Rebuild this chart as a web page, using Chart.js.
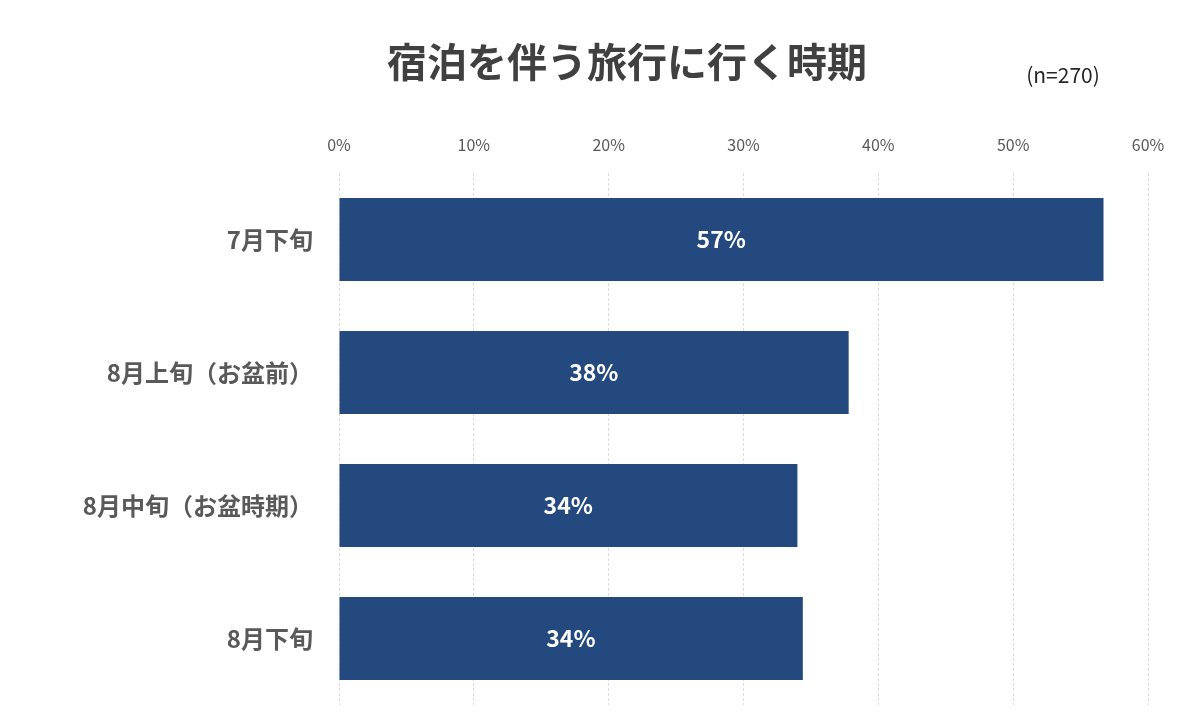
<!DOCTYPE html>
<html>
<head>
<meta charset="utf-8">
<script src="https://cdn.jsdelivr.net/npm/chart.js@4"></script>
<style>
  body { margin: 0; background: #ffffff; }
</style>
</head>
<body>
<canvas id="chart" width="1200" height="728"></canvas>
<script>
const categories = ["7月下旬", "8月上旬（お盆前）", "8月中旬（お盆時期）", "8月下旬"];
const shares = [56.7, 37.8, 34.0, 34.4];
const shareLabels = ["57%", "38%", "34%", "34%"];
const xTicks = [0, 10, 20, 30, 40, 50, 60];

const FONT = "'Noto Sans CJK JP', 'Noto Sans', sans-serif";

// title, sample size and values inside the bars
const textPlugin = {
  id: "texts",
  afterDatasetsDraw(chart) {
    const ctx = chart.ctx;
    ctx.save();
    ctx.textAlign = "center";
    ctx.textBaseline = "middle";
    ctx.fillStyle = "#404040";
    ctx.font = "bold 40px " + FONT;
    ctx.fillText("宿泊を伴う旅行に行く時期", 627, 62);
    ctx.fillStyle = "#262626";
    ctx.font = "21px " + FONT;
    ctx.fillText("(n=270)", 1063, 75);

    ctx.fillStyle = "#ffffff";
    ctx.font = "bold 23px " + FONT;
    chart.getDatasetMeta(0).data.forEach((bar, i) => {
      const xs = chart.scales.x;
      ctx.fillText(shareLabels[i], (xs.getPixelForValue(0) + bar.x) / 2, bar.y);
    });
    ctx.restore();
  }
};

new Chart(document.getElementById("chart"), {
  type: "bar",
  data: {
    labels: categories,
    datasets: [
      {
        data: shares,
        backgroundColor: "#23497e",
        borderWidth: 0,
        categoryPercentage: 0.624,
        barPercentage: 1.0,
      },
    ],
  },
  options: {
    responsive: false,
    animation: false,
    indexAxis: "y",
    layout: { padding: { left: 0, right: 52, top: 0, bottom: 23 } },
    plugins: {
      legend: { display: false },
      tooltip: { enabled: false },
    },
    scales: {
      x: {
        position: "top",
        min: 0,
        max: 60,
        afterBuildTicks: (axis) => {
          axis.ticks = xTicks.map((v) => ({ value: v }));
        },
        afterFit: (axis) => {
          axis.height = 173;
        },
        ticks: {
          color: "#595959",
          padding: 18,
          font: { family: FONT, size: 16 },
          callback: (v) => v + "%",
        },
        grid: {
          color: "#dcdcdc",
          drawTicks: false,
        },
        border: { display: false, dash: [3, 2] },
      },
      y: {
        afterFit: (axis) => {
          axis.width = 339;
          axis.paddingTop = 0;
          axis.paddingBottom = 0;
        },
        ticks: {
          color: "#595959",
          padding: 18,
          font: { family: FONT, size: 24, weight: "bold" },
        },
        grid: { display: false },
        border: { display: false },
      },
    },
  },
  plugins: [textPlugin],
});
</script>
</body>
</html>
